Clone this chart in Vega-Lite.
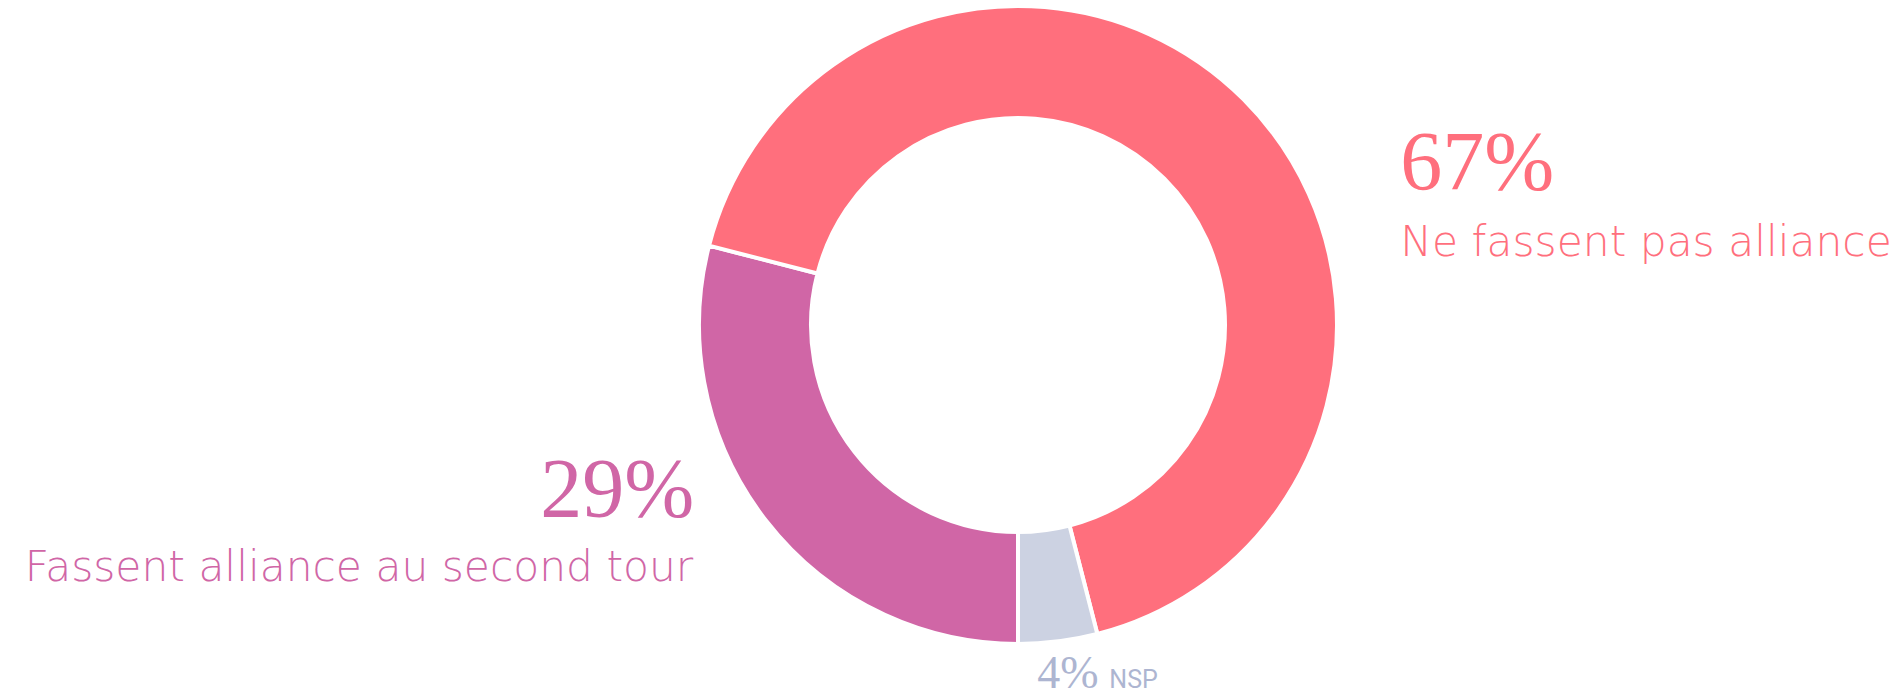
{
  "$schema": "https://vega.github.io/schema/vega-lite/v6.json",
  "width": 1770,
  "height": 650,
  "autosize": {"type": "none"},
  "padding": {"left": 133, "top": 0, "right": 0, "bottom": 48},
  "background": "white",
  "config": {"view": {"stroke": null}},
  "data": {
    "values": [
      {"categorie": "Fassent alliance au second tour", "part": 0.29, "ordre": 1},
      {"categorie": "Ne fassent pas alliance", "part": 0.67, "ordre": 2},
      {"categorie": "NSP", "part": 0.04, "ordre": 3}
    ]
  },
  "encoding": {
    "theta": {
      "field": "part",
      "type": "quantitative",
      "stack": true,
      "scale": {"range": [3.141592653589793, 9.42477796076938]}
    },
    "order": {"field": "ordre", "type": "quantitative"},
    "color": {
      "field": "categorie",
      "type": "nominal",
      "scale": {
        "domain": ["Fassent alliance au second tour", "Ne fassent pas alliance", "NSP"],
        "range": ["#D066A6", "#FF6F7D", "#CCD2E2"]
      },
      "legend": null
    }
  },
  "layer": [
    {
      "mark": {"type": "arc", "outerRadius": 319, "innerRadius": 207, "stroke": "white", "strokeWidth": 4}
    },
    {
      "mark": {"type": "text", "radius": 330, "align": "left", "baseline": "alphabetic", "dx": 149, "dy": 98, "font": "Liberation Serif", "fontSize": 84},
      "encoding": {
        "text": {"condition": {"test": "datum.categorie === 'Ne fassent pas alliance'", "field": "part", "format": ".0%"}, "value": ""}
      }
    },
    {
      "mark": {"type": "text", "radius": 330, "align": "left", "baseline": "alphabetic", "dx": 149, "dy": 164, "font": "DejaVu Sans", "fontWeight": 200, "fontSize": 42.4},
      "encoding": {
        "text": {"condition": {"test": "datum.categorie === 'Ne fassent pas alliance'", "field": "categorie"}, "value": ""}
      }
    },
    {
      "mark": {"type": "text", "radius": 330, "align": "right", "baseline": "alphabetic", "dx": -63, "dy": -10, "font": "Liberation Serif", "fontSize": 84},
      "encoding": {
        "text": {"condition": {"test": "datum.categorie === 'Fassent alliance au second tour'", "field": "part", "format": ".0%"}, "value": ""}
      }
    },
    {
      "mark": {"type": "text", "radius": 330, "align": "right", "baseline": "alphabetic", "dx": -64, "dy": 54, "font": "DejaVu Sans", "fontWeight": 200, "fontSize": 42.4},
      "encoding": {
        "text": {"condition": {"test": "datum.categorie === 'Fassent alliance au second tour'", "field": "categorie"}, "value": ""}
      }
    },
    {
      "mark": {"type": "text", "radius": 330, "align": "left", "baseline": "alphabetic", "dx": -22, "dy": 36, "font": "Liberation Serif", "fontSize": 46},
      "encoding": {
        "text": {"condition": {"test": "datum.categorie === 'NSP'", "field": "part", "format": ".0%"}, "value": ""},
        "color": {"value": "#ADB5D1"}
      }
    },
    {
      "mark": {"type": "text", "radius": 330, "align": "left", "baseline": "alphabetic", "dx": 50, "dy": 36, "font": "Roboto", "fontSize": 25},
      "encoding": {
        "text": {"condition": {"test": "datum.categorie === 'NSP'", "field": "categorie"}, "value": ""},
        "color": {"value": "#ADB5D1"}
      }
    }
  ]
}
